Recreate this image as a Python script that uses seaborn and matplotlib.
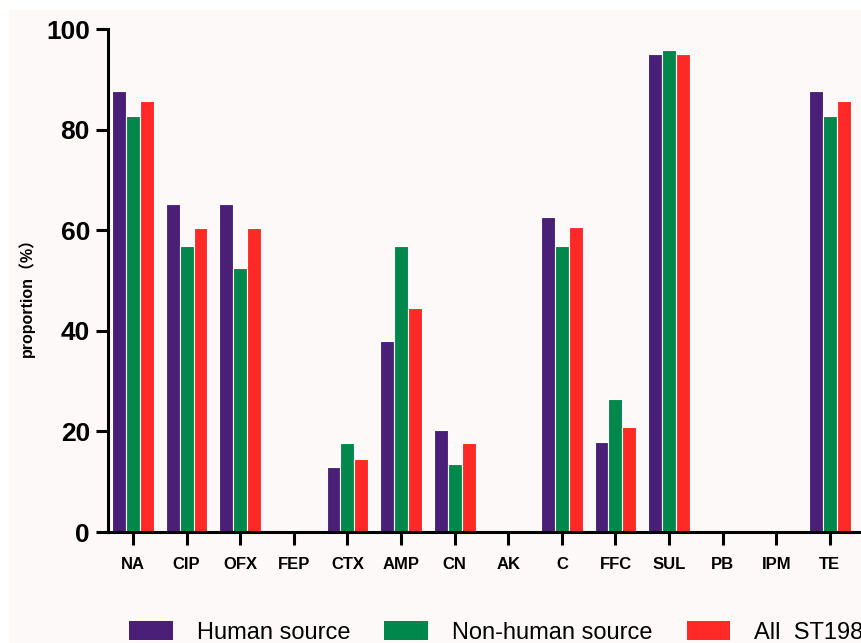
import pandas as pd
import matplotlib
matplotlib.use("Agg")
import matplotlib.pyplot as plt
import seaborn as sns
from matplotlib.patches import Rectangle

# ------------------------
# Data
# ------------------------
drugs = ["NA", "CIP", "OFX", "FEP", "CTX", "AMP", "CN", "AK",
         "C", "FFC", "SUL", "PB", "IPM", "TE"]
human = [87.8, 65.3, 65.3, 0, 13.0, 37.9, 20.3, 0, 62.7, 17.9, 95.1, 0, 0, 87.8]
non_human = [82.8, 56.9, 52.5, 0, 17.8, 56.9, 13.5, 0, 56.9, 26.5, 95.8, 0, 0, 82.8]
all_st198 = [85.8, 60.5, 60.5, 0, 14.6, 44.5, 17.8, 0, 60.6, 20.9, 95.1, 0, 0, 85.8]
groups = ["Human source", "Non-human source", "All  ST198"]
colors = ["#4a1f78", "#00874b", "#ff2a27"]

df = pd.DataFrame({
    "drug": drugs * 3,
    "group": [groups[0]] * len(drugs) + [groups[1]] * len(drugs) + [groups[2]] * len(drugs),
    "value": human + non_human + all_st198,
})

sns.set_style("ticks")
plt.rcParams["font.family"] = ["Liberation Sans", "Noto Sans CJK SC", "DejaVu Sans"]
plt.rcParams["text.color"] = "black"
plt.rcParams["xtick.color"] = "black"
plt.rcParams["ytick.color"] = "black"
plt.rcParams["axes.labelcolor"] = "black"

bg = "#fcf9f8"
fig = plt.figure(figsize=(8.61, 6.43), dpi=100, facecolor="white")
fig.patches.append(Rectangle((9 / 861, 0), 1, 1 - 10 / 643, transform=fig.transFigure,
                             facecolor=bg, edgecolor="none", zorder=-1))

ax = fig.add_axes([108 / 861, 1 - 532 / 643, 1 - 108 / 861, (532 - 29.3) / 643])
ax.set_facecolor(bg)

sns.barplot(data=df, x="drug", y="value", hue="group", palette=colors, saturation=1,
            width=0.78, edgecolor="white", linewidth=0.8, ax=ax)

ax.set_ylim(0, 100)
ax.set_xlim(-0.466, 13.58)
ax.set_yticks([0, 20, 40, 60, 80, 100])
ax.set_xlabel("")
ax.set_ylabel("proportion（%）", fontsize=11.5, fontweight="bold")
ax.yaxis.set_label_coords(-0.097, 0.474)

for s in ["top", "right"]:
    ax.spines[s].set_visible(False)
for s in ["left", "bottom"]:
    ax.spines[s].set_linewidth(2.2)
    ax.spines[s].set_color("black")

ax.tick_params(axis="y", length=9, width=2.2, pad=4, labelsize=19)
ax.tick_params(axis="x", length=9, width=2.2, pad=9, labelsize=12)
for lbl in ax.get_yticklabels() + ax.get_xticklabels():
    lbl.set_fontweight("bold")

ax.get_legend().remove()
handles = [Rectangle((0, 0), 1, 1, facecolor=c, edgecolor="none") for c in colors]
fig.legend(handles, groups, loc="center left", bbox_to_anchor=(129 / 861, 10.5 / 643),
           ncol=3, frameon=False, fontsize=17, handlelength=1.86, handleheight=0.85,
           handletextpad=1.0, columnspacing=1.45, borderpad=0, borderaxespad=0)

plt.savefig("out.png", dpi=100, facecolor=fig.get_facecolor())
